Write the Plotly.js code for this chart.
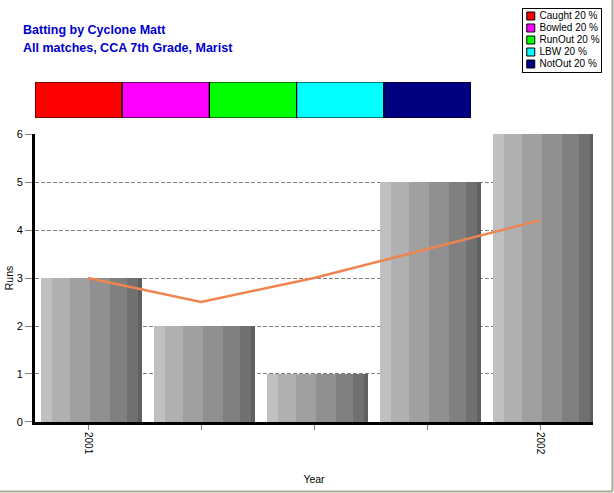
<!DOCTYPE html>
<html>
<head>
<meta charset="utf-8">
<script src="https://cdn.plot.ly/plotly-3.0.1.min.js"></script>
<style>
  html, body { margin: 0; padding: 0; background: #fff; }
  #chart { width: 614px; height: 493px; }
</style>
</head>
<body>
<div id="chart"></div>
<script>
// Data
const inningsIdx = [0, 1, 2, 3, 4];
const runs = [3, 2, 1, 5, 6];
const trendRuns = [3, 2.5, 3, 3.6, 4.2];
const yearTicks = ['2001', '', '', '', '2002'];
const dismissals = ['Caught', 'Bowled', 'RunOut', 'LBW', 'NotOut'];
const dismissalPct = [20, 20, 20, 20, 20];
const dismissalColors = ['#ff0000', '#ff00ff', '#00ff00', '#00ffff', '#000080'];

// Vertical shading stripes used for each bar (style only)
const stripeWidths = [0.1035, 0.153, 0.177, 0.177, 0.15, 0.1035, 0.036];
const stripeColors = ['#c0c0c0', '#b0b0b0', '#a0a0a0', '#909090', '#808080', '#707070', '#606060'];

const font = 'Liberation Sans, Arial, sans-serif';
const data = [];

// Main bars, drawn as overlaid stripes
let off = -0.419;
stripeWidths.forEach((w, i) => {
    data.push({
        type: 'bar',
        x: inningsIdx,
        y: runs,
        width: w,
        offset: off,
        marker: { color: stripeColors[i], line: { width: 0 } },
        showlegend: false,
        hoverinfo: 'skip',
    });
    off += w;
});

// Orange line
data.push({
    type: 'scatter',
    mode: 'lines',
    x: inningsIdx,
    y: trendRuns,
    line: { color: '#ee8450', width: 2.5 },
    showlegend: false,
    hoverinfo: 'skip',
});

// Dismissal strip (100% bar)
let base = 0;
dismissals.forEach((d, i) => {
    data.push({
        type: 'bar',
        orientation: 'h',
        x: [dismissalPct[i]],
        y: [0],
        base: [base],
        width: 1,
        xaxis: 'x2',
        yaxis: 'y2',
        marker: { color: dismissalColors[i], line: { color: '#000', width: 1.2 } },
        showlegend: false,
        hoverinfo: 'skip',
    });
    base += dismissalPct[i];
});

// Legend box, drawn as a small marker plot
data.push({
    type: 'scatter',
    mode: 'markers+text',
    x: dismissals.map(() => 0.1),
    y: dismissals.map((d, i) => i),
    text: dismissals.map((d, i) => ' ' + d + ' ' + dismissalPct[i] + ' %'),
    textposition: 'middle right',
    textfont: { family: font, size: 10, color: '#000' },
    marker: { symbol: 'square', size: 8, color: dismissalColors, line: { color: '#000', width: 1 } },
    xaxis: 'x3',
    yaxis: 'y3',
    showlegend: false,
    hoverinfo: 'skip',
    cliponaxis: false,
});

const layout = {
    width: 614,
    height: 493,
    margin: { l: 35, r: 10, t: 5, b: 71 },
    paper_bgcolor: '#fff',
    plot_bgcolor: '#fff',
    barmode: 'overlay',
    bargap: 0,
    hovermode: false,
    showlegend: false,
    font: { family: font, size: 11, color: '#000' },
    xaxis: {
        domain: [0, 0.9807],
        range: [-0.469, 4.469],
        tickvals: inningsIdx,
        ticktext: yearTicks,
        tickangle: 90,
        ticks: 'outside',
        ticklen: 5,
        tickcolor: '#808080',
        tickfont: { family: font, size: 10 },
        showgrid: false,
        zeroline: false,
        showline: true,
        linecolor: '#000',
        linewidth: 3,
        title: { text: 'Year', font: { family: font, size: 10.5 }, standoff: 22 },
    },
    yaxis: {
        domain: [0, 0.6906],
        range: [0, 6],
        dtick: 1,
        ticks: 'outside',
        ticklen: 7,
        tickcolor: '#808080',
        tickfont: { family: font, size: 11 },
        showgrid: true,
        gridcolor: '#808080',
        griddash: '4px,2px',
        gridwidth: 1,
        zeroline: false,
        showline: true,
        linecolor: '#000',
        linewidth: 3,
        title: { text: 'Runs', font: { family: font, size: 10.5 }, standoff: 1 },
    },
    xaxis2: {
        domain: [0, 0.7663],
        range: [0, 100],
        anchor: 'y2',
        visible: false,
    },
    yaxis2: {
        domain: [0.729, 0.8153],
        range: [-0.5, 0.5],
        anchor: 'x2',
        visible: false,
    },
    xaxis3: {
        domain: [0.8576, 0.9947],
        range: [0, 1],
        anchor: 'y3',
        showline: true,
        mirror: true,
        linecolor: '#000',
        linewidth: 1,
        showgrid: false,
        zeroline: false,
        showticklabels: false,
        ticks: '',
    },
    yaxis3: {
        domain: [0.8393, 0.9904],
        range: [4.667, -0.583],
        anchor: 'x3',
        showline: true,
        mirror: true,
        linecolor: '#000',
        linewidth: 1,
        showgrid: false,
        zeroline: false,
        showticklabels: false,
        ticks: '',
    },
    annotations: [
        {
            text: '<b>Batting by Cyclone Matt</b>',
            xref: 'paper', yref: 'paper',
            x: -0.0246, y: 0.9400,
            xanchor: 'left', yanchor: 'middle',
            showarrow: false,
            font: { family: font, size: 12.5, color: '#0000cc' },
        },
        {
            text: '<b>All matches, CCA 7th Grade, Marist</b>',
            xref: 'paper', yref: 'paper',
            x: -0.0246, y: 0.8969,
            xanchor: 'left', yanchor: 'middle',
            showarrow: false,
            font: { family: font, size: 12.5, color: '#0000cc' },
        },
    ],
    shapes: [
        // page frame, right and bottom edges
        {
            type: 'line', xref: 'paper', yref: 'paper',
            x0: 1.0149, x1: 1.0149, y0: 1.012, y1: -0.1667,
            line: { color: '#a8a898', width: 2 },
        },
        {
            type: 'line', xref: 'paper', yref: 'paper',
            x0: -0.0615, x1: 1.0149, y0: -0.1667, y1: -0.1667,
            line: { color: '#a8a898', width: 2 },
        },
    ],
};

Plotly.newPlot('chart', data, layout, { displayModeBar: false, staticPlot: true });
</script>
</body>
</html>
